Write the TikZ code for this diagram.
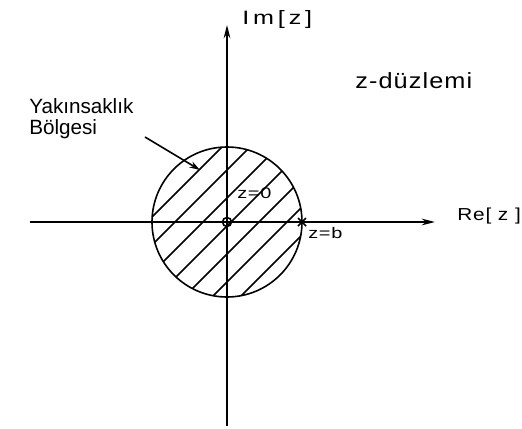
\documentclass[tikz,border=0pt]{standalone}
\usepackage{fontspec}
\setmainfont{Liberation Sans}
\usetikzlibrary{arrows.meta,calc}

\tikzset{
  plane/.style={line width=1.2pt},
  axisarrow/.style={plane, -{Stealth[length=10pt,width=5pt]}},
  labelarrow/.style={plane, -{Stealth[length=8pt,width=5pt]}},
  hatch/.style={line width=1.1pt},
  regionlabel/.style={inner sep=0pt, align=left, anchor=base west,
    font=\fontsize{15.5}{15.5}\selectfont},
  planelabel/.style={inner sep=0pt, anchor=base west,
    font=\fontsize{16.5}{18}\selectfont\addfontfeatures{FakeStretch=1.15,LetterSpace=5}},
  axislabel/.style={inner sep=0pt, anchor=base west,
    font=\fontsize{13}{15}\selectfont\addfontfeatures{FakeStretch=1.2,LetterSpace=5}},
  imlabel/.style={inner sep=0pt, anchor=base west,
    font=\fontsize{14.5}{16}\selectfont\addfontfeatures{FakeStretch=1.3,LetterSpace=20}},
  pointlabel/.style={inner sep=0pt, anchor=base west,
    font=\fontsize{11.5}{13}\selectfont\addfontfeatures{FakeStretch=1.3,LetterSpace=5}},
}

\begin{document}
\begin{tikzpicture}[x=0.75pt,y=0.75pt]

  % frame of the picture (522 x 429)
  \useasboundingbox (-227,-207) rectangle (295,222);

  % ---- axes ----
  \coordinate (xleft)   at (-197,0);
  \coordinate (xright)  at (208,0);
  \coordinate (ybottom) at (0,-204);
  \coordinate (ytop)    at (0,197);
  \draw[axisarrow] (xleft) -- (xright);
  \draw[axisarrow] (ybottom) -- (ytop);

  % ---- region of convergence: hatched disc ----
  \begin{scope}
    \clip (0,0) circle (75);
    \foreach \c in {80,52,...,-88} {
      \draw[hatch] (-110,-110+\c) -- (110,110+\c);
    }
  \end{scope}
  \draw[plane] (0,0) circle (75);

  % ---- zero at z=0, pole at z=b ----
  \coordinate (zero) at (0,0);
  \coordinate (pole) at (75,0);
  \draw[plane] (zero) circle (4.5);
  \draw[plane] ($(pole)+(-4,-4)$) -- ($(pole)+(4,4)$)
               ($(pole)+(-4,4)$) -- ($(pole)+(4,-4)$);

  % ---- labels ----
  \node[imlabel]    (imlab)  at (15,197)  {Im[z]};
  \node[axislabel]  (relab)  at (230,2)   {Re[ z ]};
  \node[planelabel] (plane)  at (128,134) {z-düzlemi};
  \node[pointlabel] (zlab)   at (10,24)   {z=0};
  \node[pointlabel] (blab)   at (81,-16)  {z=b};
  \node[regionlabel] (roc)   at (-198,88) {Yakınsaklık\\Bölgesi};

  % ---- pointer into the region ----
  \coordinate (roctail) at (-82,85);
  \coordinate (rochead) at (-27,52);
  \draw[labelarrow] (roctail) -- (rochead);

\end{tikzpicture}
\end{document}
